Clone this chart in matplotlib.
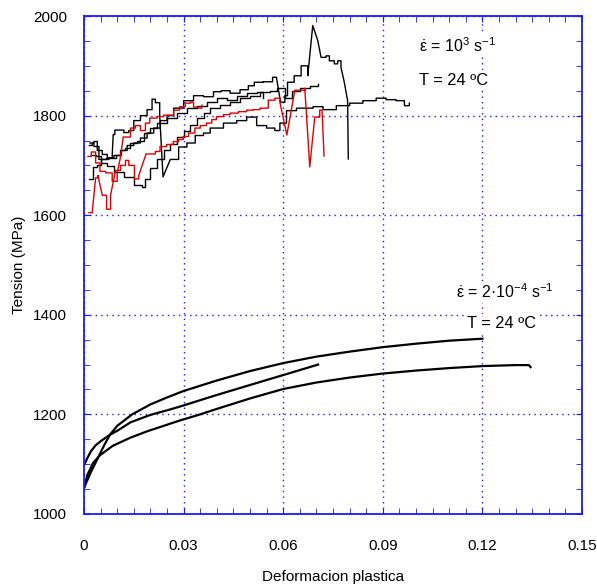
import matplotlib
matplotlib.use("Agg")
import matplotlib.pyplot as plt
from matplotlib.ticker import MultipleLocator

plt.rcParams["font.family"] = ["Liberation Sans", "DejaVu Sans"]
plt.rcParams["mathtext.fontset"] = "custom"
plt.rcParams["mathtext.rm"] = "Liberation Sans"
plt.rcParams["mathtext.it"] = "Liberation Sans"

BLUE = "#1a1aff"

# quasi-static curves (2e-4 1/s)
qs1_x = [0, 0.001, 0.002, 0.004, 0.006, 0.0078, 0.010, 0.0145, 0.02, 0.025, 0.03,
         0.04, 0.05, 0.06, 0.07, 0.08, 0.09, 0.10, 0.11, 0.12]
qs1_y = [1052, 1068, 1083, 1110, 1137, 1159, 1177, 1200, 1220, 1234, 1247,
         1268, 1287, 1303, 1316, 1326, 1335, 1342, 1348, 1352]
qs2_x = [0, 0.001, 0.002, 0.0035, 0.005, 0.0078, 0.01, 0.014, 0.02, 0.026, 0.03,
         0.04, 0.05, 0.06, 0.0705]
qs2_y = [1098, 1112, 1125, 1138, 1146, 1159, 1167, 1184, 1199, 1210, 1218,
         1239, 1259, 1279, 1300]
qs3_x = [0, 0.001, 0.0027, 0.0048, 0.0087, 0.0139, 0.019, 0.024, 0.029, 0.035, 0.04,
         0.05, 0.06, 0.07, 0.08, 0.09, 0.10, 0.11, 0.12, 0.13, 0.134, 0.1345]
qs3_y = [1052, 1078, 1102, 1118, 1137, 1153, 1166, 1177, 1188, 1200, 1211,
         1232, 1251, 1264, 1274, 1282, 1288, 1293, 1297, 1299, 1299, 1295]

# dynamic curves (1e3 1/s)
bk1_x = [0.0018, 0.003, 0.004, 0.0055, 0.007, 0.009, 0.011, 0.013, 0.015, 0.017,
         0.019, 0.021, 0.023, 0.025, 0.027, 0.03, 0.033, 0.036, 0.039, 0.0413,
         0.044, 0.047, 0.0495, 0.0513, 0.054, 0.0568, 0.058, 0.0592, 0.0605, 0.0613,
         0.0633, 0.0654, 0.0674, 0.0689, 0.0704, 0.0714, 0.0729, 0.0739, 0.0754, 0.0764,
         0.0774, 0.0784, 0.0794, 0.0796]
bk1_y = [1745, 1748, 1730, 1722, 1715, 1720, 1730, 1740, 1745, 1755,
         1765, 1775, 1790, 1800, 1815, 1830, 1840, 1838, 1848, 1850,
         1845, 1852, 1860, 1867, 1868, 1877, 1875, 1827, 1840, 1867,
         1880, 1900, 1880, 1981, 1951, 1917, 1920, 1910, 1904, 1910,
         1897, 1867, 1830, 1713]
bk2_x = [0.0016, 0.0025, 0.003, 0.0045, 0.006, 0.0075, 0.0085, 0.0088, 0.0093, 0.0115,
         0.012, 0.0135, 0.015, 0.017, 0.019, 0.0205, 0.0215, 0.0228, 0.0238, 0.026,
         0.0285, 0.031, 0.0335, 0.036, 0.038, 0.042, 0.046, 0.049, 0.052, 0.055,
         0.0575, 0.059, 0.061, 0.064, 0.066, 0.069, 0.072, 0.076, 0.08, 0.084,
         0.088, 0.091, 0.094, 0.0965, 0.098]
bk2_y = [1740, 1745, 1738, 1712, 1712, 1715, 1720, 1762, 1771, 1771,
         1766, 1770, 1790, 1800, 1812, 1833, 1826, 1800, 1677, 1712,
         1737, 1745, 1760, 1765, 1775, 1785, 1790, 1797, 1780, 1775,
         1770, 1785, 1810, 1815, 1815, 1818, 1812, 1820, 1825, 1830,
         1835, 1832, 1830, 1820, 1825]
bk3_x = [0.0015, 0.0028, 0.004, 0.005, 0.0065, 0.008, 0.0095, 0.011, 0.0125, 0.014,
         0.016, 0.018, 0.02, 0.022, 0.025, 0.028, 0.031, 0.034, 0.037, 0.04,
         0.043, 0.046, 0.049, 0.052, 0.0538]
bk3_y = [1672, 1697, 1700, 1712, 1715, 1715, 1720, 1730, 1735, 1745,
         1750, 1765, 1775, 1785, 1795, 1805, 1815, 1820, 1828, 1835,
         1832, 1840, 1845, 1848, 1835]
bk4_x = [0.002, 0.0035, 0.005, 0.007, 0.0091, 0.0121, 0.0152, 0.0175, 0.0185, 0.02,
         0.022, 0.024, 0.026, 0.028, 0.03, 0.032, 0.034, 0.036, 0.038, 0.041,
         0.044, 0.047, 0.05, 0.053, 0.056, 0.058, 0.0605, 0.0625, 0.065, 0.068, 0.0704]
bk4_y = [1721, 1718, 1705, 1698, 1686, 1676, 1660, 1657, 1672, 1695,
         1712, 1730, 1742, 1757, 1770, 1782, 1795, 1805, 1815, 1822,
         1828, 1836, 1840, 1848, 1850, 1855, 1835, 1850, 1855, 1860, 1864]
rd1_x = [0.0015, 0.0025, 0.0035, 0.0042, 0.0055, 0.0068, 0.008, 0.0095, 0.011, 0.0125,
         0.0135, 0.0152, 0.0165, 0.0187, 0.0215, 0.0229, 0.0249, 0.0269, 0.0285, 0.0299,
         0.0315, 0.0334, 0.035, 0.0369, 0.0385, 0.0399, 0.042, 0.044, 0.0465, 0.049,
         0.051, 0.053, 0.0555, 0.0575, 0.059, 0.0611, 0.0635, 0.0665,
         0.068, 0.0695, 0.071, 0.0717, 0.0723]
rd1_y = [1605, 1607, 1675, 1680, 1640, 1612, 1640, 1690, 1700, 1710,
         1700, 1673, 1680, 1723, 1728, 1738, 1742, 1748, 1752, 1758,
         1765, 1775, 1780, 1785, 1792, 1798, 1802, 1805, 1808, 1811,
         1812, 1815, 1831, 1835, 1827, 1761, 1851, 1855,
         1697, 1797, 1811, 1809, 1719]
rd2_x = [0.0012, 0.0022, 0.0035, 0.0048, 0.0065, 0.0085, 0.01, 0.011, 0.0118, 0.0132,
         0.014, 0.0155, 0.017, 0.0185, 0.0198, 0.022, 0.024, 0.027, 0.0288, 0.0305,
         0.032, 0.033, 0.0345, 0.0355]
rd2_y = [1718, 1727, 1705, 1688, 1685, 1668, 1685, 1717, 1757, 1757,
         1775, 1780, 1770, 1785, 1795, 1798, 1801, 1811, 1818, 1825,
         1827, 1817, 1815, 1821]

x_ticks = [0, 0.03, 0.06, 0.09, 0.12, 0.15]
x_labels = ["0", "0.03", "0.06", "0.09", "0.12", "0.15"]
y_ticks = [1000, 1200, 1400, 1600, 1800, 2000]


def stairs(xs, ys, jump=30):
    # digitised records look like staircases: small changes drawn as steps
    px, py = [xs[0]], [ys[0]]
    for i in range(1, len(xs)):
        if abs(ys[i] - ys[i - 1]) < jump:
            px.append(xs[i])
            py.append(ys[i - 1])
        px.append(xs[i])
        py.append(ys[i])
    return px, py


fig = plt.figure(figsize=(5.97, 5.87), dpi=100)
ax = fig.add_axes([0.1407, 0.1244, 0.8342, 0.8483])

for xs, ys in [(qs1_x, qs1_y), (qs2_x, qs2_y), (qs3_x, qs3_y)]:
    ax.plot(xs, ys, color="black", lw=1.6)
for xs, ys in [(bk1_x, bk1_y), (bk2_x, bk2_y), (bk3_x, bk3_y), (bk4_x, bk4_y)]:
    ax.plot(*stairs(xs, ys), color="black", lw=1.0)
for xs, ys in [(rd1_x, rd1_y), (rd2_x, rd2_y)]:
    ax.plot(*stairs(xs, ys), color="#e00000", lw=1.0)

ax.set_xlim(0, 0.15)
ax.set_ylim(1000, 2000)
ax.set_xticks(x_ticks)
ax.set_xticklabels(x_labels)
ax.set_yticks(y_ticks)
ax.xaxis.set_minor_locator(MultipleLocator(0.005))
ax.yaxis.set_minor_locator(MultipleLocator(50))
ax.grid(True, which="major", color=BLUE, linestyle=(0, (1, 3)), lw=1)
ax.tick_params(which="both", direction="in", top=True, right=True, color=BLUE,
               labelsize=11, labelcolor="black", length=4)
ax.tick_params(axis="x", pad=18)
ax.tick_params(axis="y", pad=12)
for s in ax.spines.values():
    s.set_color(BLUE)
    s.set_linewidth(1.3)

box = dict(facecolor="white", edgecolor="none", pad=1)
ax.text(0.101, 1940, r"$\dot{\varepsilon}$ = 10$^{3}$ s$^{-1}$", fontsize=11.5, va="center", bbox=box)
ax.text(0.101, 1871, "T = 24 ºC", fontsize=11.8, va="center", bbox=box)
ax.text(0.112, 1446, r"$\dot{\varepsilon}$ = 2·10$^{-4}$ s$^{-1}$", fontsize=11.5, va="center", bbox=box)
ax.text(0.1155, 1383, "T = 24 ºC", fontsize=11.8, va="center", bbox=box)

ax.set_xlabel("Deformacion plastica", fontsize=11, labelpad=12)
ax.set_ylabel("Tension (MPa)", fontsize=11, labelpad=5)

fig.savefig("out.png", dpi=100)
